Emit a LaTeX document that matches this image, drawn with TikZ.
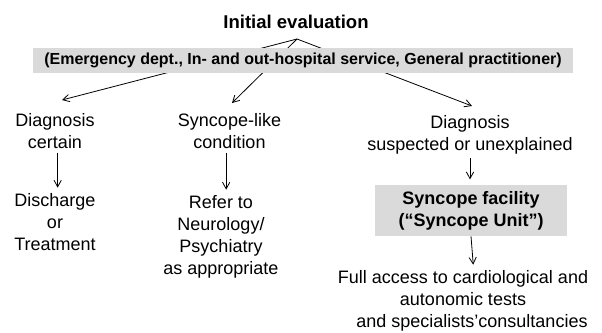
\documentclass[tikz,border=0pt]{standalone}
\usepackage{fontspec}
\setmainfont{Liberation Sans}
\usetikzlibrary{arrows.meta}
\definecolor{bandgray}{RGB}{218,218,218}

\begin{document}
\begin{tikzpicture}[
    x=0.75pt, y=-0.75pt,
    every node/.style={inner sep=0pt, align=center, font=\fontsize{13.5}{16.5}\selectfont},
    txt/.style={anchor=north},
    greybox/.style={fill=bandgray, font=\bfseries\fontsize{13.5}{16.5}\selectfont, minimum width=144pt, minimum height=38.25pt},
    band/.style={fill=bandgray, font=\bfseries\fontsize{12}{14}\selectfont, minimum width=405pt, minimum height=18.75pt},
    arrow/.style={-{Straight Barb[length=5pt,width=5.5pt]}, line width=0.6pt, shorten <=3pt, shorten >=4pt}
]
\useasboundingbox (0,0) rectangle (602,332);

\node[txt, font=\bfseries\fontsize{13.9}{16}\selectfont] (init) at (296,15) {Initial evaluation};
\coordinate (apex) at (297,39);

\node[txt] (certain) at (55,113) {Diagnosis\\certain};
\node[txt] (synlike) at (229.5,113) {Syncope-like\\condition};
\node[txt] (suspect) at (470,115) {Diagnosis\\suspected or unexplained};

\draw[arrow, shorten <=0pt, shorten >=0pt] (apex) -- ([shift={(7,-13)}]certain.north);
\draw[arrow, shorten <=0pt, shorten >=0pt] (apex) -- ([shift={(2.5,-10)}]synlike.north);
\draw[arrow, shorten <=0pt, shorten >=0pt] (apex) -- ([shift={(2,-9)}]suspect.north);

\node[band] (setting) at (303,60.5) {(Emergency dept., In- and out-hospital service, General practitioner)};

\node[txt] (discharge) at (55,193) {Discharge\\or\\Treatment};
\node[txt] (refer) at (221,195) {Refer to\\Neurology/\\Psychiatry\\as appropriate};
\node[greybox] (unit) at (471,210.5) {Syncope facility\\(“Syncope Unit”)};
\node[txt] (access) at (463,270) {Full access to cardiological and\\autonomic tests\\\hspace*{13.5pt}and specialists’consultancies};

\draw[arrow] ([xshift=2]certain.south) -- ([xshift=2]certain.south |- discharge.north);
\draw[arrow] ([xshift=-2.5]synlike.south) -- ([xshift=-2.5]synlike.south |- refer.north);
\draw[arrow] (suspect.south) -- (suspect.south |- unit.north);
\draw[arrow, shorten <=0pt] (unit.south) -- ([xshift=8]access.north);

\end{tikzpicture}
\end{document}
